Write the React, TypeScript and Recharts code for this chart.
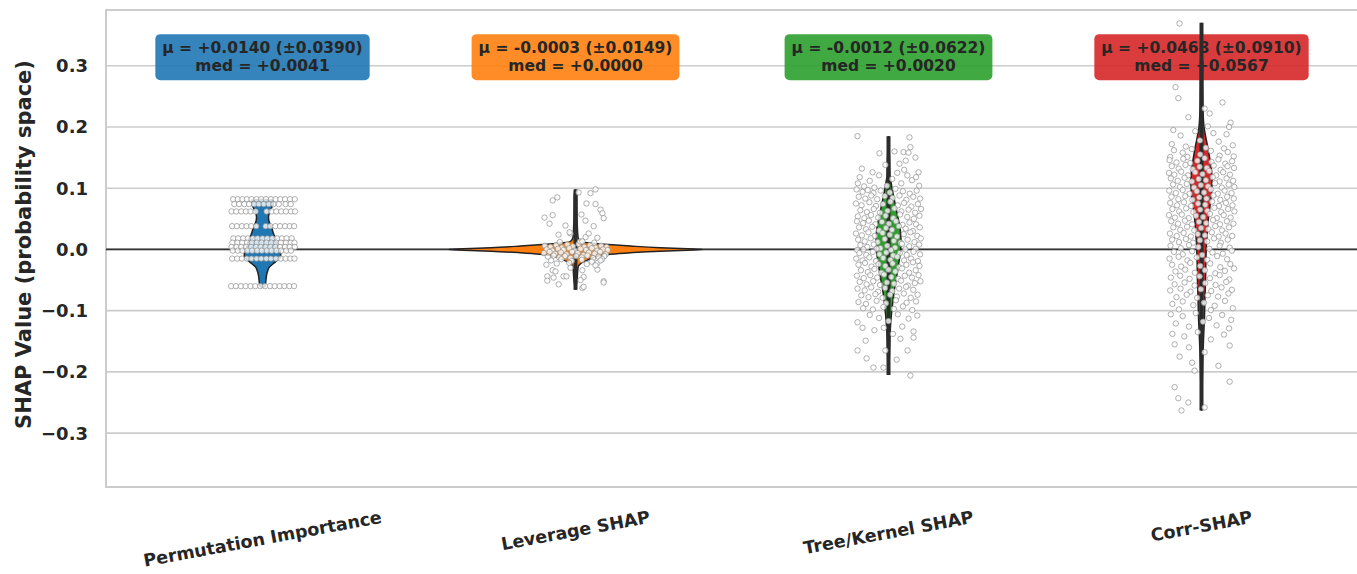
import React from "react";
import {
    ComposedChart,
    XAxis,
    YAxis,
    CartesianGrid,
    Area,
    Line,
    Scatter,
    ReferenceLine,
    ReferenceDot,
    ReferenceArea,
} from "recharts";

const methods = ["Permutation Importance", "Leverage SHAP", "Tree/Kernel SHAP", "Corr-SHAP"];
const colors = ["#1f77b4", "#ff7f0e", "#2ca02c", "#d62728"];
const means = [0.014, -0.0003, -0.0012, 0.0468];
const stds = [0.039, 0.0149, 0.0622, 0.091];
const medians = [0.0041, 0.0, 0.002, 0.0567];
const yTicks = [-0.3, -0.2, -0.1, 0, 0.1, 0.2, 0.3];

// violin outlines: [value, half width in category units]
const permViolin: [number, number][] = [
    [-0.062, 0], [-0.061, 0.0064], [-0.056, 0.0096], [-0.05, 0.011], [-0.042, 0.013], [-0.036, 0.016],
    [-0.029, 0.022], [-0.02, 0.042], [-0.012, 0.058], [-0.006, 0.058], [0.003, 0.051], [0.014, 0.045],
    [0.026, 0.035], [0.036, 0.029], [0.044, 0.022], [0.052, 0.019], [0.06, 0.022], [0.068, 0.029],
    [0.075, 0.035], [0.081, 0.035], [0.0815, 0],
];
const levViolin: [number, number][] = [
    [-0.066, 0], [-0.05, 0.005], [-0.03, 0.008], [-0.022, 0.019], [-0.016, 0.045], [-0.011, 0.07],
    [-0.008, 0.112], [-0.0055, 0.176], [-0.0028, 0.271], [-0.0012, 0.358], [0, 0.405], [0.0012, 0.358],
    [0.0028, 0.271], [0.0055, 0.176], [0.008, 0.105], [0.011, 0.038], [0.013, 0.016], [0.02, 0.008],
    [0.05, 0.005], [0.09, 0.004], [0.098, 0],
];
const treeViolin: [number, number][] = [
    [-0.205, 0], [-0.17, 0.0032], [-0.14, 0.0048], [-0.125, 0.0064], [-0.105, 0.0096], [-0.085, 0.014],
    [-0.065, 0.019], [-0.045, 0.026], [-0.025, 0.032], [-0.005, 0.038], [0.015, 0.04], [0.035, 0.037],
    [0.055, 0.029], [0.075, 0.021], [0.095, 0.013], [0.11, 0.008], [0.12, 0.0048], [0.15, 0.0032],
    [0.185, 0],
];
const corrViolin: [number, number][] = [
    [-0.263, 0], [-0.2, 0.0032], [-0.17, 0.0048], [-0.14, 0.007], [-0.11, 0.0096], [-0.08, 0.011],
    [-0.05, 0.013], [-0.02, 0.014], [0.01, 0.016], [0.03, 0.019], [0.05, 0.022], [0.07, 0.027],
    [0.09, 0.032], [0.11, 0.034], [0.13, 0.032], [0.15, 0.026], [0.17, 0.019], [0.185, 0.013],
    [0.2, 0.008], [0.23, 0.0048], [0.3, 0.0032], [0.37, 0],
];
const violins = [permViolin, levViolin, treeViolin, corrViolin];

// whisker extents [low, high]
const whiskers: ([number, number] | null)[] = [null, [-0.066, 0.098], [-0.205, 0.185], [-0.263, 0.37]];

// jittered points: permutation values sit on rows [value, offsets]
const permRows: [number, number[]][] = [
    [0.082, [-0.094, -0.079, -0.064, -0.05, -0.035, -0.019, -0.004, 0.011, 0.027, 0.042, 0.057, 0.072, 0.088, 0.103]],
    [0.074, [-0.09, -0.075, -0.058, -0.043, -0.027, -0.012, 0.004, 0.02, 0.035, 0.052, 0.074, 0.09]],
    [0.062, [-0.099, -0.084, -0.068, -0.053, -0.038, -0.022, 0.013, 0.029, 0.044, 0.06, 0.075, 0.091, 0.104]],
    [0.038, [-0.097, -0.082, -0.066, -0.051, -0.036, -0.02, 0.01, 0.025, 0.041, 0.056, 0.072, 0.087, 0.101]],
    [0.018, [-0.093, -0.078, -0.062, -0.047, -0.031, -0.016, 0.0, 0.015, 0.031, 0.046, 0.062, 0.077, 0.093]],
    [0.011, [-0.096, -0.08, -0.065, -0.049, -0.034, -0.018, -0.003, 0.013, 0.028, 0.044, 0.059, 0.075, 0.09, 0.102]],
    [0.004, [-0.099, -0.083, -0.068, -0.052, -0.037, -0.021, -0.006, 0.01, 0.025, 0.041, 0.056, 0.072, 0.087, 0.103]],
    [-0.002, [-0.095, -0.079, -0.064, -0.048, -0.033, -0.017, -0.002, 0.014, 0.029, 0.045, 0.06, 0.076, 0.091]],
    [-0.015, [-0.097, -0.081, -0.066, -0.05, -0.035, -0.019, -0.004, 0.012, 0.027, 0.043, 0.058, 0.074, 0.089, 0.102]],
    [-0.06, [-0.1, -0.085, -0.069, -0.054, -0.038, -0.023, -0.007, 0.008, 0.024, 0.039, 0.055, 0.07, 0.086, 0.101]],
];

// [offset, value]
const levPoints: [number, number][] = [
    [-0.098, 0.006], [-0.08, 0.004], [-0.062, 0.007], [-0.044, 0.003], [-0.026, 0.008], [-0.008, 0.005],
    [0.01, 0.009], [0.028, 0.004], [0.046, 0.007], [0.064, 0.003], [0.082, 0.006], [0.099, 0.004],
    [-0.092, 0.0], [-0.074, -0.002], [-0.056, 0.001], [-0.038, -0.001], [-0.02, 0.002], [-0.002, -0.002],
    [0.016, 0.001], [0.034, -0.001], [0.052, 0.002], [0.07, -0.002], [0.088, 0.0], [0.103, -0.001],
    [-0.101, -0.006], [-0.083, -0.004], [-0.065, -0.007], [-0.047, -0.005], [-0.029, -0.008], [-0.011, -0.004],
    [0.007, -0.006], [0.025, -0.009], [0.043, -0.005], [0.061, -0.007], [0.079, -0.004], [0.097, -0.008],
    [-0.088, -0.012], [-0.07, -0.01], [-0.052, -0.013], [-0.034, -0.011], [-0.016, -0.014], [0.002, -0.011],
    [0.02, -0.013], [0.038, -0.01], [0.056, -0.014], [0.074, -0.012], [0.092, -0.011],
    [-0.078, -0.018], [-0.045, -0.016], [-0.012, -0.019], [0.02, -0.017], [0.052, -0.02], [0.085, -0.016],
    [-0.06, -0.023], [-0.02, -0.022], [0.036, -0.024], [0.07, -0.022],
    [-0.05, 0.012], [0.015, 0.013], [0.06, 0.011],
    [-0.073, 0.08], [-0.058, 0.085], [0.01, 0.093], [0.048, 0.092], [0.064, 0.098], [0.035, 0.075],
    [0.064, 0.074], [0.08, 0.065], [0.086, 0.059], [0.09, 0.051], [-0.099, 0.052], [-0.073, 0.056],
    [-0.083, 0.042], [0.019, 0.057], [0.032, 0.047], [-0.032, 0.039], [0.058, 0.038], [0.042, 0.026],
    [-0.054, 0.024], [-0.016, 0.026], [0.032, 0.02], [0.07, 0.019], [0.022, 0.013], [-0.019, 0.028],
    [-0.093, -0.025], [-0.073, -0.034], [-0.064, -0.036], [-0.09, -0.044], [-0.07, -0.046], [-0.09, -0.051],
    [-0.054, -0.057], [-0.038, -0.044], [-0.016, -0.03], [0.022, -0.034], [0.026, -0.045], [0.016, -0.05],
    [0.09, -0.052], [0.07, -0.033], [0.022, -0.063], [0.026, -0.061], [0.064, -0.026], [0.08, -0.018],
    [-0.029, -0.044], [0.09, -0.054],
];

const treePoints: [number, number][] = [
    [-0.099, 0.185], [0.067, 0.183], [0.07, 0.167], [0.019, 0.16], [-0.029, 0.157], [0.048, 0.159],
    [0.064, 0.158], [-0.051, 0.126], [0.096, 0.126], [0.035, 0.14], [0.055, 0.145], [-0.085, 0.132],
    [0.086, 0.15], [-0.01, 0.138],
    [-0.092, 0.118], [-0.06, 0.112], [-0.03, 0.121], [0.012, 0.115], [0.041, 0.108], [0.075, 0.113],
    [0.098, 0.104], [-0.078, 0.103], [-0.045, 0.101], [0.028, 0.125], [0.06, 0.121], [-0.005, 0.104],
    [0.088, 0.118], [-0.098, 0.108], [0.05, 0.13],
    [-0.102, 0.098], [-0.083, 0.094], [-0.066, 0.097], [-0.048, 0.092], [-0.025, 0.096], [0.004, 0.093],
    [0.022, 0.099], [0.046, 0.095], [0.068, 0.091], [0.09, 0.096],
    [-0.095, 0.086], [-0.074, 0.083], [-0.055, 0.088], [-0.036, 0.082], [-0.012, 0.087], [0.013, 0.084],
    [0.035, 0.088], [0.057, 0.081], [0.079, 0.086], [0.101, 0.083],
    [-0.104, 0.075], [-0.086, 0.072], [-0.061, 0.077], [-0.04, 0.071], [-0.018, 0.074], [0.006, 0.078],
    [0.03, 0.072], [0.05, 0.076], [0.073, 0.07], [0.094, 0.074],
    [-0.09, 0.064], [-0.069, 0.061], [-0.047, 0.066], [-0.027, 0.06], [-0.003, 0.063], [0.019, 0.067],
    [0.041, 0.062], [0.064, 0.065], [0.085, 0.06], [0.104, 0.066],
    [-0.098, 0.054], [-0.077, 0.051], [-0.056, 0.056], [-0.033, 0.052], [-0.009, 0.055], [0.015, 0.051],
    [0.037, 0.057], [0.06, 0.053], [0.081, 0.05], [0.099, 0.055],
    [-0.101, 0.046], [-0.081, 0.043], [-0.063, 0.047], [-0.042, 0.041], [-0.021, 0.045], [0.001, 0.042],
    [0.024, 0.046], [0.045, 0.04], [0.067, 0.044], [0.088, 0.041],
    [-0.094, 0.036], [-0.072, 0.033], [-0.052, 0.037], [-0.03, 0.031], [-0.008, 0.035], [0.011, 0.032],
    [0.033, 0.038], [0.055, 0.034], [0.078, 0.03], [0.1, 0.036],
    [-0.104, 0.026], [-0.085, 0.023], [-0.064, 0.028], [-0.044, 0.022], [-0.019, 0.027], [0.004, 0.024],
    [0.027, 0.021], [0.049, 0.025], [0.07, 0.028], [0.092, 0.022],
    [-0.097, 0.016], [-0.076, 0.013], [-0.057, 0.018], [-0.035, 0.012], [-0.012, 0.017], [0.017, 0.014],
    [0.039, 0.011], [0.061, 0.016], [0.083, 0.012], [0.103, 0.018],
    [-0.09, 0.007], [-0.068, 0.004], [-0.047, 0.008], [-0.026, 0.002], [-0.004, 0.006], [0.021, 0.003],
    [0.043, 0.009], [0.066, 0.005], [0.087, 0.001], [0.098, 0.008],
    [-0.1, -0.001], [-0.08, 0.0], [-0.038, 0.001], [0.008, -0.001], [0.054, 0.0],
    [-0.093, -0.006], [-0.071, -0.009], [-0.05, -0.004], [-0.029, -0.008], [-0.007, -0.005], [0.015, -0.01],
    [0.036, -0.006], [0.058, -0.009], [0.08, -0.004], [0.101, -0.008],
    [-0.103, -0.015], [-0.083, -0.018], [-0.061, -0.013], [-0.04, -0.019], [-0.017, -0.014], [0.006, -0.017],
    [0.028, -0.012], [0.05, -0.018], [0.072, -0.015], [0.094, -0.019],
    [-0.096, -0.025], [-0.075, -0.022], [-0.054, -0.028], [-0.032, -0.024], [-0.01, -0.027], [0.013, -0.023],
    [0.034, -0.029], [0.057, -0.025], [0.078, -0.021], [0.099, -0.027],
    [-0.088, -0.034], [-0.066, -0.037], [-0.045, -0.032], [-0.023, -0.038], [0.0, -0.033], [0.022, -0.036],
    [0.043, -0.031], [0.066, -0.038], [0.087, -0.034],
    [-0.101, -0.043], [-0.079, -0.047], [-0.058, -0.042], [-0.036, -0.046], [-0.014, -0.041], [0.009, -0.045],
    [0.031, -0.048], [0.052, -0.043], [0.075, -0.046], [0.096, -0.042],
    [-0.092, -0.053], [-0.07, -0.057], [-0.049, -0.052], [-0.027, -0.058], [-0.005, -0.054], [0.018, -0.056],
    [0.04, -0.051], [0.062, -0.059], [0.084, -0.055], [0.102, -0.052],
    [-0.099, -0.064], [-0.076, -0.067], [-0.055, -0.062], [-0.033, -0.069], [-0.011, -0.063], [0.012, -0.068],
    [0.034, -0.064], [0.056, -0.061], [0.079, -0.066],
    [-0.087, -0.075], [-0.064, -0.078], [-0.042, -0.073], [-0.019, -0.079], [0.005, -0.074], [0.027, -0.077],
    [0.049, -0.072], [0.071, -0.079], [0.093, -0.074],
    [-0.096, -0.086], [-0.072, -0.089], [-0.038, -0.084], [-0.008, -0.088], [0.024, -0.083], [0.058, -0.087],
    [0.088, -0.085],
    [-0.081, -0.096], [-0.05, -0.098], [-0.016, -0.094], [0.017, -0.097], [0.046, -0.093], [0.076, -0.099],
    [-0.099, -0.119], [-0.083, -0.128], [-0.06, -0.107], [-0.03, -0.112], [0.0, -0.117], [0.03, -0.106],
    [0.064, -0.113], [0.092, -0.108], [-0.045, -0.132], [0.014, -0.138], [0.044, -0.126], [0.08, -0.134],
    [-0.073, -0.149], [0.038, -0.146], [0.08, -0.144], [-0.015, -0.128],
    [-0.099, -0.165], [-0.01, -0.165], [0.061, -0.165], [-0.048, -0.193], [-0.016, -0.193], [0.07, -0.206],
    [0.026, -0.18], [-0.07, -0.178],
];

const corrPoints: [number, number][] = [
    [-0.07, 0.369], [-0.083, 0.265], [-0.074, 0.247], [-0.042, 0.216], [0.067, 0.24], [0.026, 0.222],
    [0.093, 0.207], [0.088, 0.2], [0.01, 0.23], [-0.09, 0.195], [-0.067, 0.186], [0.038, 0.19],
    [0.08, 0.188], [-0.02, 0.193], [-0.005, 0.178], [0.055, 0.176], [-0.095, 0.172], [0.1, 0.17],
    [-0.05, 0.168], [0.02, 0.201],
    [-0.088, 0.162], [-0.06, 0.158], [-0.031, 0.164], [-0.004, 0.155], [0.03, 0.161], [0.058, 0.153],
    [0.084, 0.159], [0.103, 0.152], [-0.1, 0.151], [-0.045, 0.151], [0.014, 0.166], [0.072, 0.165],
    [-0.102, 0.146], [-0.08, 0.142], [-0.058, 0.148], [-0.036, 0.141], [-0.013, 0.145], [0.01, 0.149],
    [0.032, 0.143], [0.054, 0.147], [0.076, 0.14], [0.098, 0.144],
    [-0.095, 0.136], [-0.073, 0.132], [-0.051, 0.138], [-0.028, 0.131], [-0.006, 0.135], [0.017, 0.133],
    [0.039, 0.137], [0.061, 0.13], [0.083, 0.136], [0.104, 0.133],
    [-0.104, 0.125], [-0.087, 0.122], [-0.065, 0.127], [-0.043, 0.121], [-0.02, 0.126], [0.003, 0.123],
    [0.025, 0.128], [0.047, 0.121], [0.069, 0.126], [0.091, 0.122],
    [-0.098, 0.116], [-0.076, 0.112], [-0.054, 0.117], [-0.031, 0.111], [-0.009, 0.115], [0.014, 0.113],
    [0.036, 0.118], [0.058, 0.111], [0.08, 0.116], [0.101, 0.112],
    [-0.091, 0.106], [-0.069, 0.102], [-0.047, 0.107], [-0.024, 0.101], [-0.002, 0.105], [0.021, 0.103],
    [0.043, 0.108], [0.065, 0.101], [0.087, 0.106], [0.105, 0.102],
    [-0.103, 0.096], [-0.082, 0.092], [-0.06, 0.097], [-0.038, 0.091], [-0.015, 0.095], [0.008, 0.093],
    [0.03, 0.098], [0.052, 0.091], [0.074, 0.096], [0.096, 0.092],
    [-0.096, 0.086], [-0.074, 0.082], [-0.052, 0.087], [-0.029, 0.081], [-0.007, 0.085], [0.016, 0.083],
    [0.038, 0.088], [0.06, 0.081], [0.082, 0.086], [0.103, 0.083],
    [-0.1, 0.076], [-0.078, 0.072], [-0.056, 0.077], [-0.033, 0.071], [-0.011, 0.075], [0.012, 0.073],
    [0.034, 0.078], [0.056, 0.071], [0.078, 0.076], [0.099, 0.072],
    [-0.093, 0.066], [-0.071, 0.062], [-0.049, 0.067], [-0.026, 0.061], [-0.004, 0.065], [0.019, 0.063],
    [0.041, 0.068], [0.063, 0.061], [0.085, 0.066], [0.105, 0.062],
    [-0.104, 0.056], [-0.085, 0.052], [-0.063, 0.057], [-0.041, 0.051], [-0.018, 0.055], [0.005, 0.053],
    [0.027, 0.058], [0.049, 0.051], [0.071, 0.056], [0.093, 0.052],
    [-0.097, 0.046], [-0.075, 0.042], [-0.053, 0.047], [-0.03, 0.041], [-0.008, 0.045], [0.015, 0.043],
    [0.037, 0.048], [0.059, 0.041], [0.081, 0.046], [0.102, 0.042],
    [-0.09, 0.036], [-0.068, 0.032], [-0.046, 0.037], [-0.023, 0.031], [-0.001, 0.035], [0.022, 0.033],
    [0.044, 0.038], [0.066, 0.031], [0.088, 0.036],
    [-0.101, 0.026], [-0.079, 0.022], [-0.057, 0.027], [-0.034, 0.021], [-0.012, 0.025], [0.011, 0.023],
    [0.033, 0.028], [0.055, 0.021], [0.077, 0.026], [0.098, 0.022],
    [-0.094, 0.016], [-0.072, 0.012], [-0.05, 0.017], [-0.027, 0.011], [-0.005, 0.015], [0.018, 0.013],
    [0.04, 0.018], [0.062, 0.011], [0.084, 0.016],
    [-0.099, 0.006], [-0.066, 0.002], [-0.04, 0.007], [-0.01, 0.004], [0.025, 0.001], [0.058, 0.006],
    [0.09, 0.003],
    [-0.088, -0.004], [-0.06, -0.008], [-0.03, -0.003], [0.002, -0.009], [0.035, -0.005], [0.068, -0.007],
    [0.097, -0.002],
    [-0.102, -0.015], [-0.073, -0.012], [-0.045, -0.018], [-0.015, -0.013], [0.018, -0.017], [0.05, -0.011],
    [0.082, -0.016],
    [-0.094, -0.025], [-0.065, -0.028], [-0.036, -0.022], [-0.004, -0.027], [0.028, -0.023], [0.06, -0.029],
    [0.092, -0.024],
    [-0.083, -0.036], [-0.052, -0.033], [-0.021, -0.038], [0.011, -0.034], [0.044, -0.039], [0.075, -0.035],
    [0.104, -0.031],
    [-0.098, -0.046], [-0.068, -0.043], [-0.038, -0.048], [-0.006, -0.044], [0.027, -0.047], [0.058, -0.042],
    [0.089, -0.049],
    [-0.086, -0.057], [-0.054, -0.054], [-0.022, -0.059], [0.012, -0.055], [0.045, -0.058], [0.079, -0.053],
    [-0.1, -0.067], [-0.067, -0.064], [-0.035, -0.069], [-0.002, -0.065], [0.031, -0.068], [0.064, -0.062],
    [0.097, -0.066],
    [-0.08, -0.078], [-0.047, -0.074], [-0.014, -0.079], [0.02, -0.075], [0.053, -0.077], [0.086, -0.072],
    [-0.093, -0.089], [-0.06, -0.085], [-0.026, -0.091], [0.008, -0.087], [0.042, -0.092], [0.075, -0.084],
    [-0.072, -0.098], [0.03, -0.099], [0.1, -0.096],
    [-0.098, -0.106], [-0.06, -0.109], [-0.018, -0.104], [0.024, -0.112], [0.066, -0.107], [0.095, -0.115],
    [-0.082, -0.121], [-0.04, -0.126], [0.005, -0.118], [0.048, -0.124], [0.088, -0.129],
    [-0.093, -0.138], [-0.055, -0.142], [-0.012, -0.135], [0.03, -0.147], [0.072, -0.139],
    [-0.086, -0.155], [-0.04, -0.16], [0.09, -0.157], [0.01, -0.168], [-0.07, -0.175], [0.054, -0.19],
    [-0.022, -0.198], [-0.03, -0.185], [0.09, -0.216], [-0.086, -0.225], [-0.074, -0.243], [-0.042, -0.25],
    [-0.064, -0.263], [0.01, -0.258],
];

const groupPoints: [number, number][][] = [
    permRows.flatMap(([v, offs]) => offs.map((o) => [o, v] as [number, number])),
    levPoints,
    treePoints,
    corrPoints,
];

const FONT = "DejaVu Sans";
const TEXT = "#262626";

let measureCtx: CanvasRenderingContext2D | null = null;
function measure(s: string, font: string) {
    if (!measureCtx) measureCtx = document.createElement("canvas").getContext("2d");
    if (!measureCtx) return s.length * 10;
    measureCtx.font = font;
    return measureCtx.measureText(s).width;
}

const signed = (v: number) => (v < 0 ? "-" : "+") + Math.abs(v).toFixed(4);

function XTick(props: any) {
    const { x, y, payload } = props;
    const label = methods[Math.floor(payload.value)];
    const w = measure(label, `bold 17.5px '${FONT}'`);
    const rad = (10.5 * Math.PI) / 180;
    const h = w * Math.sin(rad) + 20 * Math.cos(rad);
    const cy = y + 20 + h / 2;
    return (
        <text x={x} y={cy} textAnchor="middle" dominantBaseline="central"
            transform={`rotate(-10.5 ${x} ${cy})`} fontSize={17.5} fontWeight="bold"
            fontFamily={FONT} fill={TEXT}>
            {label}
        </text>
    );
}

function YTick(props: any) {
    const { y, payload } = props;
    const v = Math.abs(payload.value) < 1e-9 ? 0 : payload.value;
    return (
        <text x={88} y={y} textAnchor="end" dominantBaseline="central" fontSize={18}
            fontWeight="bold" fontFamily={FONT} fill={TEXT}>
            {v.toFixed(1).replace("-", "\u2212")}
        </text>
    );
}

function YLabel(props: any) {
    const vb = props.viewBox || { y: 10, height: 477 };
    const cy = vb.y + vb.height / 2 - 4;
    return (
        <text x={24} y={cy} textAnchor="middle" dominantBaseline="central"
            transform={`rotate(-90 24 ${cy})`} fontSize={21} fontWeight="bold"
            fontFamily={FONT} fill={TEXT}>
            SHAP Value (probability space)
        </text>
    );
}

function StatBox({ cx, cy, i }: { cx: number; cy: number; i: number }) {
    const l1 = `μ = ${signed(means[i])} (±${stds[i].toFixed(4)})`;
    const l2 = `med = ${signed(medians[i])}`;
    const w = measure(l1, `bold 15.5px '${FONT}'`) + 14;
    return (
        <g>
            <rect x={cx - w / 2} y={cy - 23} width={w} height={46} rx={5} fill={colors[i]} fillOpacity={0.9} />
            <text x={cx} y={cy - 9} textAnchor="middle" dominantBaseline="central" fontSize={15.5}
                fontWeight="bold" fontFamily={FONT} fill={TEXT}>{l1}</text>
            <text x={cx} y={cy + 9} textAnchor="middle" dominantBaseline="central" fontSize={15.5}
                fontWeight="bold" fontFamily={FONT} fill={TEXT}>{l2}</text>
        </g>
    );
}

const dot = (p: any) => (
    <circle cx={p.cx} cy={p.cy} r={2.7} fill="#ffffff" fillOpacity={0.8} stroke="#8c8c8c" strokeWidth={0.7} />
);

export default function App() {
    return (
        <div style={{ position: "absolute", left: 0, top: 0, width: 1357, height: 574, overflow: "hidden", background: "#fff" }}>
            <ComposedChart layout="vertical" width={1358} height={574} margin={{ top: 10, right: 0, bottom: 0, left: 0 }}>
                <CartesianGrid vertical={false} stroke="#cccccc" strokeWidth={1.6} />
                <XAxis type="number" dataKey="x" domain={[0, 4]} ticks={[0.5, 1.5, 2.5, 3.5]} interval={0}
                    allowDataOverflow height={87} tickLine={false} axisLine={false} tickSize={0} tickMargin={0}
                    tick={<XTick />} />
                <YAxis type="number" dataKey="y" domain={[-0.388, 0.391]} ticks={yTicks} interval={0}
                    allowDataOverflow reversed width={106} tickLine={false} axisLine={false} tickSize={0}
                    tick={<YTick />} label={{ content: (p: any) => <YLabel {...p} /> }} />
                <ReferenceArea x1={0} x2={4} y1={-0.388} y2={0.391} fill="none" fillOpacity={0}
                    stroke="#cccccc" strokeWidth={2} zIndex={40} />
                <ReferenceLine y={0} stroke="#333333" strokeWidth={1.8} zIndex={50} />
                {methods.map((m, i) => (
                    <ReferenceDot key={"box" + m} x={i + 0.5} y={0.314} r={0} zIndex={60}
                        shape={(p: any) => <StatBox cx={p.cx} cy={p.cy} i={i} />} />
                ))}
                {violins.map((v, i) => (
                    <Area key={"v" + i} data={v.map(([val, w]) => ({ y: val, band: [i + 0.5 - w, i + 0.5 + w] }))}
                        dataKey="band" type="monotone" fill={colors[i]} fillOpacity={1} stroke="#222222"
                        strokeWidth={1.5} dot={false} activeDot={false} isAnimationActive={false} />
                ))}
                {whiskers.map((wk, i) =>
                    wk ? (
                        <Line key={"w" + i} data={[{ x: i + 0.5, y: wk[0] }, { x: i + 0.5, y: wk[1] }]}
                            dataKey="x" stroke="#2b2b2b" strokeWidth={4} dot={false} activeDot={false}
                            isAnimationActive={false} />
                    ) : null
                )}
                {groupPoints.map((pts, i) => (
                    <Scatter key={"p" + i} data={pts.map(([o, v]) => ({ x: i + 0.5 + o, y: v }))}
                        shape={dot} isAnimationActive={false} />
                ))}
            </ComposedChart>
        </div>
    );
}
